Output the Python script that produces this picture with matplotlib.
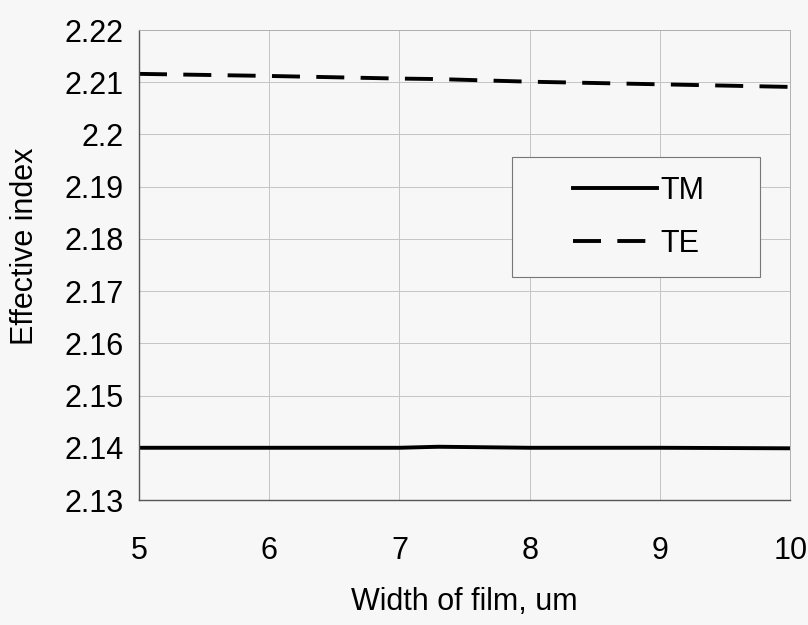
import numpy as np
import matplotlib
matplotlib.use('Agg')
import matplotlib.pyplot as plt
from matplotlib.patches import Rectangle

# --- data ---
width_um = [5, 6, 7, 7.3, 8, 9, 10]
tm_index = [2.1400, 2.1400, 2.1400, 2.1402, 2.1400, 2.1400, 2.1399]
te_index = [2.2116, 2.2112, 2.2107, 2.2106, 2.2101, 2.2096, 2.2091]

x_ticks = [5, 6, 7, 8, 9, 10]
y_ticks = [2.13, 2.14, 2.15, 2.16, 2.17, 2.18, 2.19, 2.2, 2.21, 2.22]
y_labels = ['2.13', '2.14', '2.15', '2.16', '2.17', '2.18', '2.19', '2.2', '2.21', '2.22']

plt.rcParams['font.family'] = ['Liberation Sans', 'DejaVu Sans']
FS = 22

fig = plt.figure(figsize=(8.08, 6.25), dpi=100, facecolor='#f7f7f7')
ax = fig.add_axes([0.172, 0.2, 0.806, 0.752])
ax.set_facecolor('#f7f7f7')

ax.plot(width_um, tm_index, color='black', lw=2.8, label='TM')
ax.plot(width_um, te_index, color='black', lw=2.8, linestyle=(0, (7.2, 4.2)), label='TE')

ax.set_xlim(5, 10)
ax.set_ylim(2.13, 2.22)
ax.set_xticks(x_ticks)
ax.set_yticks(y_ticks)
ax.set_yticklabels(y_labels)
ax.tick_params(axis='x', length=0, pad=26, labelsize=FS)
ax.tick_params(axis='y', length=0, pad=11, labelsize=FS)
ax.grid(True, color='#c4c4c4', lw=0.7)

for side in ['top', 'right']:
    ax.spines[side].set_color('#b0b0b0')
    ax.spines[side].set_linewidth(0.7)
for side in ['left', 'bottom']:
    ax.spines[side].set_color('#555555')
    ax.spines[side].set_linewidth(1.0)

ax.set_xlabel('Width of film, um', fontsize=FS, labelpad=15)
ax.set_ylabel('Effective index', fontsize=FS)
ax.yaxis.set_label_coords(-0.152, 0.54)

# legend box drawn separately so it can be wide with tight rows
box = Rectangle((0.573, 0.474), 0.38, 0.256, transform=ax.transAxes,
                facecolor='#f7f7f7', edgecolor='#777777', lw=0.8, zorder=4)
ax.add_patch(box)
leg = ax.legend(loc='upper left', bbox_to_anchor=(0.667, 0.69), fontsize=FS,
                handlelength=2.75, handletextpad=0.1, borderpad=0,
                borderaxespad=0, labelspacing=0.75, frameon=False)
leg.set_zorder(5)

fig.savefig('out.png', dpi=100, facecolor=fig.get_facecolor())
